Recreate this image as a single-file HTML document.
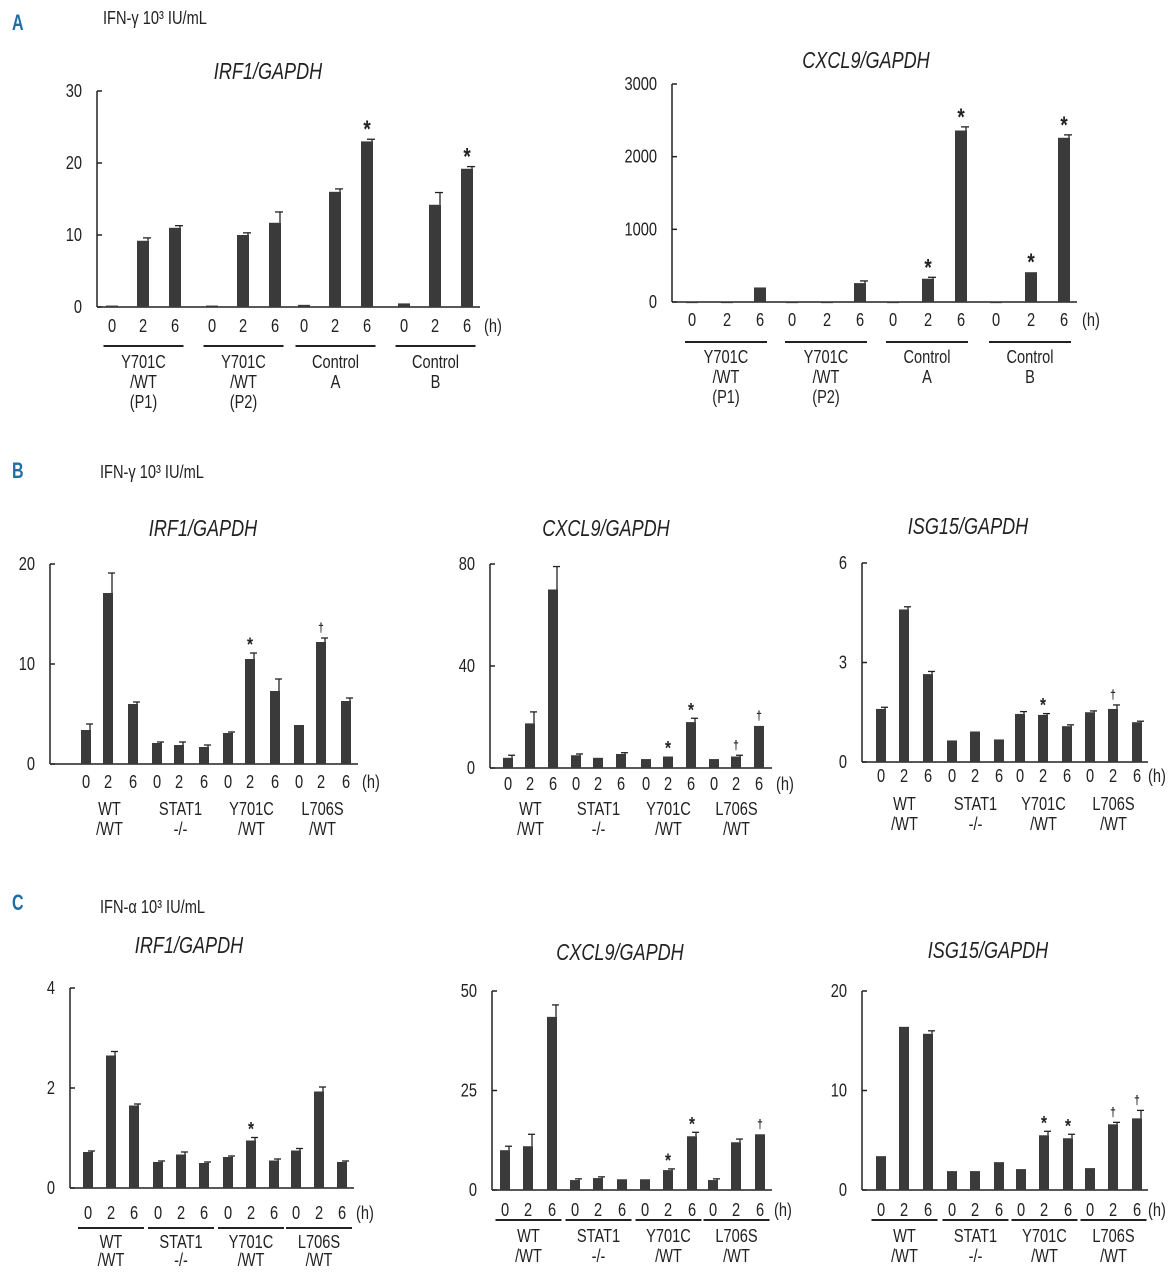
<!DOCTYPE html>
<html><head><meta charset="utf-8">
<style>
html,body{margin:0;padding:0;background:#fff;}
svg{display:block;font-family:"Liberation Sans",sans-serif;}
</style></head>
<body>
<svg id="fig" width="1174" height="1280" viewBox="0 0 1174 1280">
<rect width="1174" height="1280" fill="#fff"/>
<text transform="translate(12,30) scale(0.8,1.1)" font-size="20" font-weight="bold" fill="#1f6fa3">A</text>
<text transform="translate(103,24) scale(0.86,1.08)" font-size="17" fill="#222">IFN-γ 10³ IU/mL</text>
<text transform="translate(12,478) scale(0.8,1.1)" font-size="20" font-weight="bold" fill="#1f6fa3">B</text>
<text transform="translate(100,478) scale(0.86,1.08)" font-size="17" fill="#222">IFN-γ 10³ IU/mL</text>
<text transform="translate(12,910) scale(0.8,1.1)" font-size="20" font-weight="bold" fill="#1f6fa3">C</text>
<text transform="translate(100,913) scale(0.86,1.08)" font-size="17" fill="#222">IFN-α 10³ IU/mL</text>
</svg>
<script>
const timeLabels = ["0","2","6"];
const groupsA = [["Y701C","/WT","(P1)"],["Y701C","/WT","(P2)"],["Control","A"],["Control","B"]];
const groupsBC = [["WT","/WT"],["STAT1","-/-"],["Y701C","/WT"],["L706S","/WT"]];

const aIrfTicks = [0,10,20,30];
const aIrfValues = [0.2,9.2,11, 0.2,10,11.7, 0.3,16,23, 0.5,14.2,19.2];
const aIrfErrors = [0,0.4,0.3, 0,0.3,1.5, 0,0.4,0.3, 0,1.7,0.3];
const aIrfMarks = ["","","", "","","", "","","*", "","","*"];

const aCxTicks = [0,1000,2000,3000];
const aCxValues = [5,5,200, 5,5,260, 5,320,2360, 5,410,2260];
const aCxErrors = [0,0,0, 0,0,30, 0,20,50, 0,0,40];
const aCxMarks = ["","","", "","","", "","*","*", "","*","*"];

const bIrfTicks = [0,10,20];
const bIrfValues = [3.4,17.1,6, 2.1,1.9,1.7, 3.1,10.5,7.3, 3.9,12.2,6.3];
const bIrfErrors = [0.6,2,0.2, 0.1,0.3,0.2, 0.1,0.6,1.2, 0,0.4,0.3];
const bIrfMarks = ["","","", "","","", "","*","", "","†",""];

const bCxTicks = [0,40,80];
const bCxValues = [4,17.5,70, 5,4,5.5, 3.5,4.5,18, 3.5,4.5,16.5];
const bCxErrors = [1,4.5,9, 0.5,0,0.5, 0,0,1.5, 0,0.5,0];
const bCxMarks = ["","","", "","","", "","*","*", "","†","†"];

const bIsgTicks = [0,3,6];
const bIsgValues = [1.6,4.6,2.65, 0.65,0.92,0.68, 1.45,1.42,1.08, 1.5,1.6,1.2];
const bIsgErrors = [0.05,0.08,0.08, 0,0,0, 0.07,0.04,0.04, 0.04,0.12,0.03];
const bIsgMarks = ["","","", "","","", "","*","", "","†",""];

const cIrfTicks = [0,2,4];
const cIrfValues = [0.72,2.65,1.65, 0.52,0.67,0.5, 0.62,0.95,0.55, 0.75,1.93,0.52];
const cIrfErrors = [0.02,0.08,0.03, 0.02,0.05,0.02, 0.02,0.06,0.03, 0.04,0.09,0.02];
const cIrfMarks = ["","","", "","","", "","*","", "","",""];

const cCxTicks = [0,25,50];
const cCxValues = [10,11,43.5, 2.5,3,2.7, 2.7,5,13.5, 2.5,12,14];
const cCxErrors = [1,3,3, 0.3,0.3,0, 0,0.3,1, 0.3,0.8,0];
const cCxMarks = ["","","", "","","", "","*","*", "","","†"];

const cIsgTicks = [0,10,20];
const cIsgValues = [3.4,16.4,15.7, 1.9,1.9,2.8, 2.1,5.5,5.2, 2.2,6.6,7.2];
const cIsgErrors = [0,0,0.3, 0,0,0, 0,0.4,0.4, 0,0.2,0.8];
const cIsgMarks = ["","","", "","","", "","*","*", "","†","†"];

const NS = "http://www.w3.org/2000/svg";
const svg = document.getElementById("fig");
function mk(tag, attrs, parent, text){
  const e = document.createElementNS(NS, tag);
  if (tag === "text") {
    const tx = attrs.x, ty = attrs.y;
    delete attrs.x; delete attrs.y;
    e.setAttribute("transform", "translate(" + tx + "," + ty + ") scale(0.86,1.08)");
  }
  for (const k in attrs) e.setAttribute(k, attrs[k]);
  if (text !== undefined) e.textContent = text;
  (parent || svg).appendChild(e);
  return e;
}

function chart(c, ticks, values, errors, marks, groups){
  const g = mk("g", {});
  
  
  const max = ticks[ticks.length-1];
  const y = v => c.y0 - (v/max)*(c.y0 - c.yTop);
  const t = mk("text", {x:c.titleX, y:c.titleY, "font-size":21, "font-style":"italic", "text-anchor":"middle", fill:"#222"}, g, c.title);
  
  
  const ax = mk("line", {x1:c.ax, y1:c.yTop, x2:c.ax, y2:c.y0, stroke:"#222", "stroke-width":1.5}, g);
  
  
  ticks.forEach(tv => {
    const ty = y(tv);
    mk("line", {x1:c.ax, y1:ty, x2:c.ax+5, y2:ty, stroke:"#222", "stroke-width":1.5}, g);
    const tl = mk("text", {x:c.ax-15, y:ty+6, "font-size":17, "text-anchor":"end", fill:"#222"}, g, String(tv));
    
    
  });
  const xa = mk("line", {x1:c.ax, y1:c.y0, x2:c.axEnd, y2:c.y0, stroke:"#222", "stroke-width":1.5}, g);
  
  
  values.forEach((v, i) => {
    const gi = Math.floor(i/3), k = i%3;
    const cx = c.gx[gi] + c.off[k];
    const top = y(v);
    const b = mk("rect", {x:cx-c.bw/2, y:top, width:c.bw, height:Math.max(c.y0-top,1.5), fill:"#3a3a3a"}, g);
    
    
    let topY = top;
    if (errors[i] > 0) {
      const ey = y(v + errors[i]);
      mk("line", {x1:cx+c.bw/2-1, y1:top, x2:cx+c.bw/2-1, y2:ey, stroke:"#222", "stroke-width":1.3}, g);
      mk("line", {x1:cx, y1:ey, x2:cx+c.bw/2+2, y2:ey, stroke:"#222", "stroke-width":1.3}, g);
      topY = ey;
    }
    if (marks[i]) {
      const m = mk("text", {x:cx, y:topY-(marks[i]==="*"?2:6), "font-size":marks[i]==="*"?c.starSize:12, "text-anchor":"middle", fill:"#222", "font-weight":"bold"}, g, marks[i]);
      
      
    }
    const xl = mk("text", {x:cx, y:c.tickY, "font-size":17, "text-anchor":"middle", fill:"#222"}, g, timeLabels[k]);
    
    
  });
  const h = mk("text", {x:c.hX, y:c.tickY, "font-size":17, fill:"#222"}, g, "(h)");
  
  
  groups.forEach((lines, gi) => {
    const mid = (c.gx[gi]+c.off[0] + c.gx[gi]+c.off[2])/2;
    if (c.ulY) {
      const u = mk("line", {x1:mid-c.ulHalf, y1:c.ulY, x2:mid+c.ulHalf, y2:c.ulY, stroke:"#222", "stroke-width":2}, g);
      
      
    }
    lines.forEach((ln, li) => {
      const gl = mk("text", {x:mid, y:c.glY + li*c.glStep, "font-size":17, "text-anchor":"middle", fill:"#222"}, g, ln);
      
      
    });
  });
}

chart({name:"chart-a-irf1", title:"IRF1/GAPDH", titleX:268, titleY:79, ax:97, axEnd:480, y0:307, yTop:91,
  gx:[112,212,304,404], off:[0,31,63], bw:12, tickY:332, hX:484, ulY:346, ulHalf:40, glY:368, glStep:20, starSize:22},
  aIrfTicks, aIrfValues, aIrfErrors, aIrfMarks, groupsA);
chart({name:"chart-a-cxcl9", title:"CXCL9/GAPDH", titleX:866, titleY:68, ax:672, axEnd:1077, y0:302, yTop:84,
  gx:[692,792,893,996], off:[0,35,68], bw:12, tickY:326, hX:1082, ulY:342, ulHalf:41, glY:363, glStep:20, starSize:22},
  aCxTicks, aCxValues, aCxErrors, aCxMarks, groupsA);
chart({name:"chart-b-irf1", title:"IRF1/GAPDH", titleX:203, titleY:536, ax:50, axEnd:358, y0:764, yTop:564,
  gx:[86,157,228,299], off:[0,22,47], bw:10, tickY:788, hX:362, ulY:0, ulHalf:0, glY:815, glStep:20, starSize:18},
  bIrfTicks, bIrfValues, bIrfErrors, bIrfMarks, groupsBC);
chart({name:"chart-b-cxcl9", title:"CXCL9/GAPDH", titleX:606, titleY:536, ax:490, axEnd:772, y0:768, yTop:564,
  gx:[508,576,646,714], off:[0,22,45], bw:10, tickY:790, hX:776, ulY:0, ulHalf:0, glY:815, glStep:20, starSize:18},
  bCxTicks, bCxValues, bCxErrors, bCxMarks, groupsBC);
chart({name:"chart-b-isg15", title:"ISG15/GAPDH", titleX:968, titleY:534, ax:862, axEnd:1148, y0:762, yTop:563,
  gx:[881,952,1020,1090], off:[0,23,47], bw:10, tickY:782, hX:1148, ulY:0, ulHalf:0, glY:810, glStep:20, starSize:18},
  bIsgTicks, bIsgValues, bIsgErrors, bIsgMarks, groupsBC);
chart({name:"chart-c-irf1", title:"IRF1/GAPDH", titleX:189, titleY:953, ax:70, axEnd:354, y0:1188, yTop:988,
  gx:[88,158,228,296], off:[0,23,46], bw:10, tickY:1219, hX:356, ulY:1228, ulHalf:33, glY:1248, glStep:18, starSize:18},
  cIrfTicks, cIrfValues, cIrfErrors, cIrfMarks, groupsBC);
chart({name:"chart-c-cxcl9", title:"CXCL9/GAPDH", titleX:620, titleY:960, ax:492, axEnd:772, y0:1190, yTop:991,
  gx:[505,575,645,713], off:[0,23,47], bw:10, tickY:1216, hX:774, ulY:1220, ulHalf:33, glY:1242, glStep:20, starSize:18},
  cCxTicks, cCxValues, cCxErrors, cCxMarks, groupsBC);
chart({name:"chart-c-isg15", title:"ISG15/GAPDH", titleX:988, titleY:958, ax:862, axEnd:1148, y0:1190, yTop:991,
  gx:[881,952,1021,1090], off:[0,23,47], bw:10, tickY:1216, hX:1148, ulY:1220, ulHalf:33, glY:1242, glStep:20, starSize:18},
  cIsgTicks, cIsgValues, cIsgErrors, cIsgMarks, groupsBC);
</script>
</body></html>
